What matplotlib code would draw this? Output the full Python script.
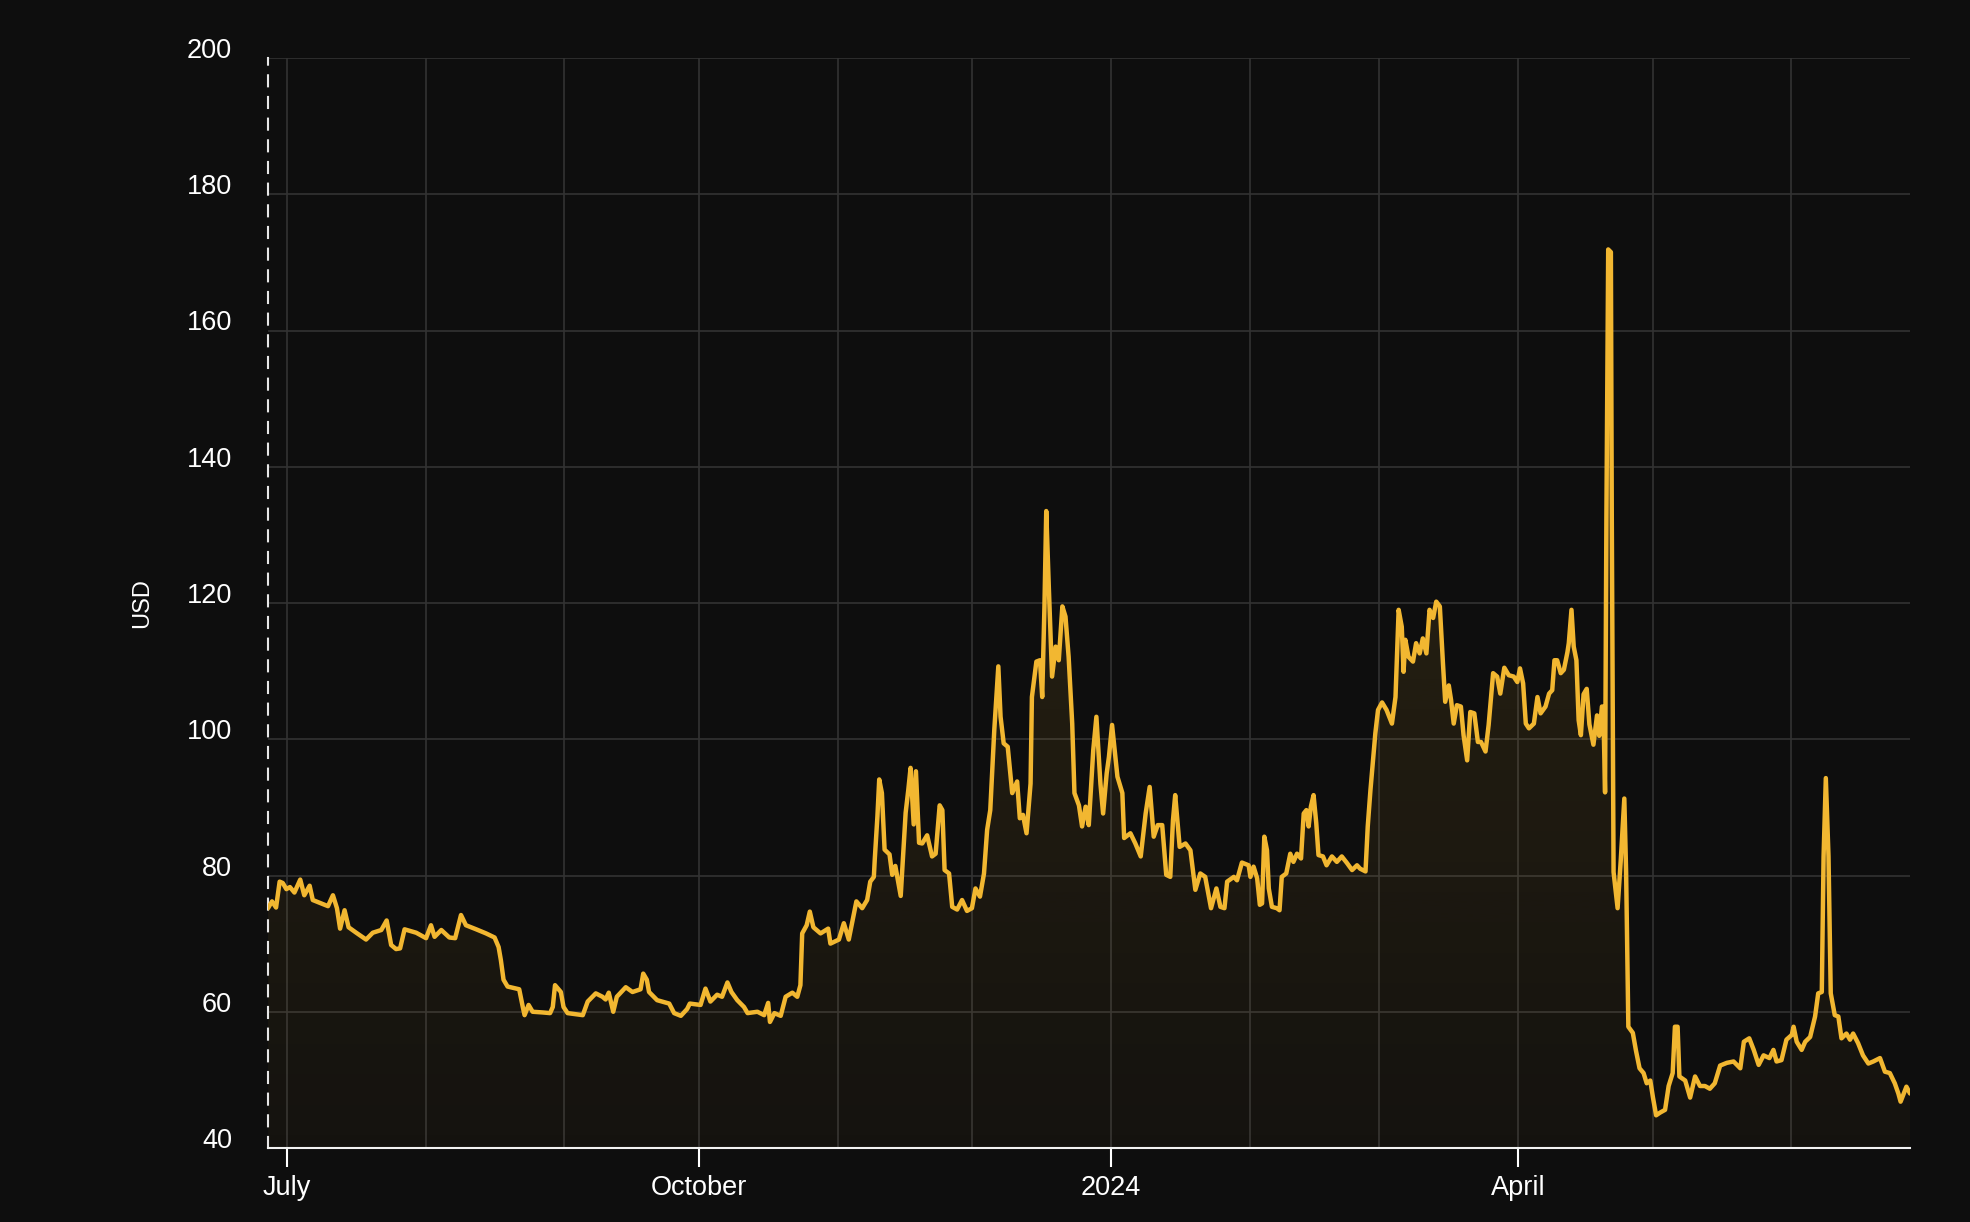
import matplotlib
matplotlib.use("Agg")
import matplotlib.pyplot as plt
import matplotlib.dates as mdates
from matplotlib.patches import PathPatch
from matplotlib.colors import to_rgb
from matplotlib.ticker import FixedLocator
import numpy as np
import pandas as pd

# ---------------- data ----------------
start_date = "2023-07-01"

days = [
    -4.2, -3.3, -2.4, -1.6, -0.9, -0.1, 0.7, 1.7, 3.0, 3.9, 5.1, 5.8, 7.7, 9.2, 10.3, 11.2, 11.9, 12.9, 13.8,
    15.5, 17.7, 19.2, 21.1, 22.3, 23.3, 24.4, 25.3, 26.3, 28.9, 31.1, 32.2, 33.0, 34.5, 36.3, 37.6, 38.9,
    40.0, 42.3, 44.5, 46.4, 47.3, 47.8, 48.4, 49.3, 51.9, 52.7, 53.1, 54.0, 54.9, 57.1, 58.8, 59.4, 59.9,
    61.2, 61.8, 62.7, 66.1, 67.2, 69.0, 70.5,
    71.2, 71.9, 72.9, 73.7, 75.7, 77.2, 79.0, 79.6, 80.4, 80.9, 82.7, 85.4, 86.5, 88.0, 89.4, 90.0, 92.4,
    93.5, 94.6, 96.1, 97.2, 98.4, 99.3, 100.6, 102.1, 102.9, 105.1, 106.6, 107.5, 107.9, 108.9, 110.3,
    111.4, 112.9, 114.0, 114.7, 115.1, 116.1, 116.8, 117.6, 119.2, 120.9, 121.4, 123.3, 124.4, 125.5,
    127.2, 128.5, 129.6, 130.3, 131.1,
    131.3, 131.9, 132.3, 132.9, 133.5, 134.6, 135.2, 135.9, 137.1, 138.2, 138.8, 139.3, 140.0, 140.5, 141.2,
    141.9, 143.0, 144.1, 144.9, 145.8, 146.4, 146.9, 147.9, 148.6, 149.7, 150.8, 151.9, 153.0, 153.8,
    154.8, 155.7, 156.4, 157.1, 158.0, 158.9, 159.4, 160.1, 161.0, 162.0, 163.1, 163.7, 164.4, 165.2,
    166.1, 166.4, 167.4, 168.2, 168.7, 169.2, 169.6, 170.2, 170.9, 171.7, 172.4, 173.2, 173.9, 174.6,
    175.4, 175.9, 176.9, 177.6, 178.4, 179.1, 180.1, 180.8, 181.7, 182.3, 183.1, 183.6, 184.3, 185.5,
    186.6, 187.0, 188.4, 189.5, 190.7, 191.8, 192.7, 193.6, 194.5, 195.5, 196.4, 197.3, 197.9, 198.4,
    199.4, 200.7, 201.8, 202.9, 204.0, 205.1, 206.4, 207.6, 208.5, 209.4, 210.0, 211.5, 212.2, 213.3, 214.8,
    215.2, 215.9, 216.7, 217.3, 217.8, 218.3, 218.9, 219.3, 220.0, 221.1, 221.7, 222.2, 223.2, 224.1,
    224.8, 225.6, 226.5, 227.1, 227.7, 228.2, 228.7, 229.3, 229.9, 230.4, 231.4, 232.2, 233.4, 234.5,
    235.6, 236.8, 237.9, 239.0, 239.7, 240.9, 241.4, 242.0, 242.7, 243.1, 243.7, 244.6, 245.6, 246.8,
    247.6, 248.3, 249.0, 249.4, 249.8, 250.5, 251.5, 252.2, 253.0, 253.7, 254.5, 255.2, 256.0, 256.7,
    257.5, 258.2, 258.7, 259.5, 260.0, 260.6, 261.3, 262.2, 262.8, 263.6, 264.3, 265.2, 266.0, 266.7,
    267.7, 268.4, 269.4, 270.3, 271.0, 271.9, 272.9, 274.0, 274.8, 275.4, 276.1, 276.7, 277.4, 278.5,
    279.3, 280.0, 281.1, 281.9, 282.6, 283.1, 283.7, 284.5, 285.2, 286.0, 286.3, 286.9, 287.4, 288.0,
    288.5, 289.0,
    289.6, 290.3, 290.9, 291.8, 292.6, 293.1, 293.7, 294.0, 294.4, 294.7, 295.1, 295.7, 295.9, 296.3,
    297.2, 297.9, 298.7, 299.1, 299.6, 300.6, 301.3, 302.1, 303.0, 303.7, 304.5, 305.1, 305.8, 306.7,
    307.8, 308.6, 309.5, 310.0, 310.6, 311.0, 312.3, 313.4, 314.5, 315.6, 316.7, 317.8, 318.9, 320.1,
    321.6, 323.1,
    324.6, 325.4, 326.6, 327.6, 328.7, 329.8, 331.1, 332.0, 332.7, 333.8, 334.9, 336.1, 336.5, 337.2,
    338.3, 339.1, 340.2, 341.3, 342.0, 342.8, 343.2, 343.7, 344.3, 344.8, 345.7, 346.5, 347.2, 348.3,
    349.1, 349.8, 350.9, 352.0, 353.2, 354.3, 355.8, 356.9, 358.0, 359.1, 359.9, 360.4, 361.0, 361.7, 362.5,
]

prices = [
    75.2, 76.2, 75.3, 79.1, 78.9, 78.0, 78.3, 77.5, 79.4, 77.1, 78.5, 76.4, 75.9, 75.5, 77.1, 75.2, 72.2, 74.9, 72.4,
    71.6, 70.6, 71.6, 72.0, 73.4, 69.8, 69.2, 69.3, 72.1, 71.6, 70.8, 72.7, 71.0, 72.0, 70.9, 70.8, 74.2,
    72.7, 72.1, 71.5, 70.9, 69.5, 67.6, 64.7, 63.7, 63.3, 60.7, 59.5, 61.0, 60.0, 59.9, 59.8, 60.7, 63.9,
    62.9, 60.7, 59.8, 59.5, 61.5, 62.7, 62.2,
    61.8, 62.8, 60.0, 62.2, 63.6, 62.9, 63.3, 65.6, 64.7, 62.9, 61.7, 61.2, 59.8, 59.4, 60.4, 61.2, 61.0,
    63.4, 61.5, 62.5, 62.2, 64.3, 62.9, 61.7, 60.7, 59.8, 60.0, 59.5, 61.3, 58.5, 59.8, 59.4,
    62.2, 62.8, 62.2, 63.9, 71.5, 72.7, 74.7, 72.4, 71.5, 72.2, 70.0, 70.6, 73.0, 70.6,
    76.2, 75.2, 76.4, 79.1, 79.8,
    82.3, 88.7, 94.1, 92.1, 83.8, 83.1, 80.1, 81.4, 77.0, 89.2, 92.6, 95.8, 87.5, 95.3, 84.8,
    84.7, 85.9, 82.8, 83.2, 90.3, 89.6, 80.8, 80.3, 75.4, 75.0, 76.4, 74.8, 75.2, 78.1,
    76.9, 80.3, 86.7, 89.6, 101.4, 110.7, 103.3, 99.4, 98.9, 92.1, 93.8, 88.4, 88.9, 86.2,
    93.5, 106.2, 111.4, 111.6, 106.2, 119.5, 133.5, 121.9, 109.2, 113.6, 111.6, 119.5, 118.0, 112.1,
    102.3, 92.1, 90.3, 87.2, 90.1, 87.4, 98.4, 103.3, 93.5, 89.1, 95.0, 97.4, 102.1, 94.5,
    92.1, 85.5, 86.2, 84.7, 82.8, 89.1, 93.0, 85.7, 87.4, 87.4, 80.1, 79.8, 88.1, 91.8,
    84.2, 84.7, 83.7, 77.9, 80.3, 79.8, 75.2, 78.1, 75.4, 75.2, 79.1, 79.8, 79.3, 81.9, 81.5,
    79.8, 81.3, 79.6, 75.7, 75.9, 85.7, 83.7, 78.1, 75.4, 75.2, 74.9, 79.8, 80.3, 83.2,
    82.0, 83.2, 82.5, 89.1, 89.6, 87.2, 90.1, 91.8, 87.7, 83.0, 82.8, 81.5, 82.8, 82.0,
    82.8, 81.8, 80.8, 81.5, 81.0, 80.6, 87.2, 92.5, 97.9, 100.9, 104.3, 105.4, 104.3, 102.3,
    106.2, 119.0, 116.5, 109.9, 114.6, 112.1, 111.4, 114.1, 112.6, 114.8, 112.6, 119.0, 117.8, 120.2,
    119.5, 111.1, 105.5, 107.9, 105.8, 102.3, 105.0, 104.8, 100.6, 96.9, 104.0, 103.8, 99.6, 99.6,
    98.2, 102.1, 109.7, 109.2, 106.7, 110.5, 109.4, 109.2, 108.4, 110.4, 108.2, 102.3, 101.6, 102.3,
    106.2, 103.8, 104.8, 106.7, 107.2, 111.6, 111.6, 109.7, 110.2, 112.8, 114.1, 119.0, 113.6, 111.6,
    102.8, 100.6,
    106.6, 107.4, 102.2, 99.2, 103.5, 100.5, 104.8, 104.8, 92.2, 132.7, 171.9, 171.5, 132.7, 80.5,
    75.2, 82.2, 91.3, 80.5, 57.8, 56.9, 54.3, 51.7, 51.0, 49.5, 49.9, 47.4, 44.8, 45.2,
    45.6, 49.1, 51.0, 57.8, 57.8, 50.5, 49.9, 47.4, 50.5, 49.1, 49.1, 48.7, 49.5, 52.1,
    52.5, 52.7,
    51.7, 55.6, 56.1, 54.4, 52.2, 53.6, 53.2, 54.4, 52.7, 52.9, 55.9, 56.6, 57.8, 55.6,
    54.4, 55.6, 56.3, 59.3, 62.7, 62.9, 82.8, 94.3, 82.8, 62.7, 59.5, 59.3, 56.1, 56.8,
    55.9, 56.8, 55.4, 53.6, 52.4, 52.7, 53.2, 51.2, 51.0, 49.5, 48.0, 46.8, 47.8, 49.0, 48.0,
]

y_ticks = [40, 60, 80, 100, 120, 140, 160, 180, 200]
x_tick_dates = ["2023-07-01", "2023-10-01", "2024-01-01", "2024-04-01"]
x_tick_labels = ["July", "October", "2024", "April"]
y_label = "USD"

# ---------------- style ----------------
BG = "#0e0e0e"
LINE = "#f2b731"
GRID = "#333333"
plt.rcParams["font.family"] = ["Liberation Sans", "DejaVu Sans"]

dates = pd.Timestamp(start_date) + pd.to_timedelta(np.array(days), unit="D")
x = mdates.date2num(dates.to_pydatetime())
y = np.array(prices)

W, H = 1970, 1222
fig = plt.figure(figsize=(W / 100, H / 100), dpi=100, facecolor=BG)
ax = fig.add_axes([268 / W, 1 - 1148 / H, (1910 - 268) / W, (1148 - 58) / H])
ax.set_facecolor(BG)
ax.set_axisbelow(True)

# gradient fill under the line
poly = ax.fill_between(x, y, 40, facecolor="none", edgecolor="none")
path = poly.get_paths()[0]
clip = PathPatch(path, transform=ax.transData, facecolor="none", edgecolor="none")
ax.add_patch(clip)
n = 256
rgba = np.zeros((n, 1, 4))
rgba[..., :3] = to_rgb(LINE)
rgba[:, 0, 3] = np.linspace(0.03, 0.17, n)
im = ax.imshow(rgba, extent=[x[0], x[-1], 40, 200], origin="lower",
               aspect="auto", zorder=1, interpolation="bilinear")
im.set_clip_path(clip)

ax.plot(x, y, color=LINE, lw=3.2, solid_joinstyle="round", solid_capstyle="round", zorder=3)

ax.set_xlim(x[0], x[-1])
ax.set_ylim(40, 200)

# ticks
ax.xaxis.set_major_locator(FixedLocator(mdates.date2num(pd.to_datetime(x_tick_dates).to_pydatetime())))
ax.set_xticklabels(x_tick_labels)
ax.xaxis.set_minor_locator(mdates.MonthLocator())
ax.set_yticks(y_ticks)
ax.set_yticklabels([str(v) for v in y_ticks])

ax.tick_params(axis="x", which="major", length=13.7, width=1.5, color="white",
               pad=6, labelsize=19.5, labelcolor="white")
ax.tick_params(axis="x", which="minor", length=0)
ax.tick_params(axis="y", which="major", length=0, pad=26, labelsize=19.5, labelcolor="white")
for lab in ax.get_yticklabels():
    lab.set_verticalalignment("baseline")

ax.grid(which="both", axis="x", color=GRID, lw=1.2)
ax.grid(which="major", axis="y", color=GRID, lw=1.2)

for s in ["top", "right"]:
    ax.spines[s].set_visible(False)
ax.spines["left"].set_color("#e6e6e6")
ax.spines["left"].set_linewidth(1.5)
ax.spines["left"].set_linestyle((0, (5.3, 5.1)))
ax.spines["bottom"].set_color("#f2f2f2")
ax.spines["bottom"].set_linewidth(1.5)

ax.set_ylabel(y_label, color="white", fontsize=17)
ax.yaxis.set_label_coords((153 - 268) / 1642, 0.5)

fig.savefig("out.png", dpi=100, facecolor=BG)
